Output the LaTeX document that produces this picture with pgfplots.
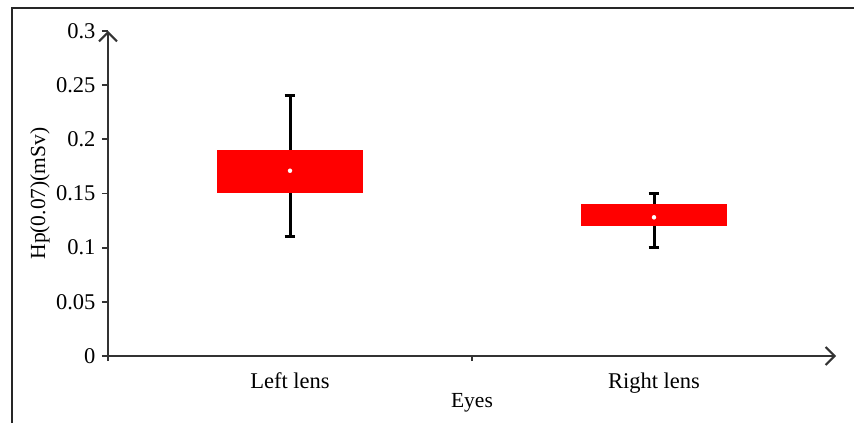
\documentclass[border=0pt]{standalone}
\usepackage{fontspec}
\setmainfont{Liberation Serif}
\usepackage{pgfplots}
\pgfplotsset{compat=1.18}
\usepgfplotslibrary{statistics}
\usetikzlibrary{arrows.meta}
\begin{document}
\begin{tikzpicture}[font=\fontsize{22.5}{26}\selectfont]
\useasboundingbox (0,0) rectangle (854pt,423pt);
\draw[line width=2.2pt, black!85] (12pt,0) -- (12pt,415pt) -- (854pt,415pt);
\begin{axis}[
  at={(108pt,67pt)}, anchor=south west,
  scale only axis, width=728pt, height=325pt,
  xmin=0, xmax=2, ymin=0, ymax=0.3,
  axis lines=left,
  axis line style={line width=2.5pt, black!80},
  x axis line style={-{Straight Barb[length=9pt,width=18pt,line width=2pt]}},
  y axis line style={-{Straight Barb[length=9pt,width=18pt,line width=2pt]}},
  xtick={0.5,1.5}, xticklabels={Left lens, Right lens},
  major x tick style={draw=none},
  minor xtick={0,1},
  minor x tick style={line width=1.8pt, black!80},
  minor tick length=5pt,
  ytick={0,0.05,0.1,0.15,0.2,0.25,0.3},
  yticklabels={0,0.05,0.1,0.15,0.2,0.25,0.3},
  tick align=outside,
  major tick length=6pt,
  y tick style={line width=1.8pt, black!80},
  tick label style={font=\fontsize{22.5}{26}\selectfont},
  xticklabel style={yshift=-7pt},
  yticklabel style={xshift=-3pt},
  xlabel={Eyes}, ylabel={Hp(0.07)(mSv)},
  label style={font=\fontsize{21.5}{25}\selectfont},
  x label style={at={(axis description cs:0.5,-0.145)}, anchor=center},
  y label style={at={(axis description cs:-0.0934,0.5)}, anchor=center, rotate=0},
  boxplot/draw direction=y,
  boxplot/box extend=0.4,
  boxplot/whisker extend=0.03,
  clip=false,
]
\addplot[black, line width=3pt,
  boxplot/every box/.style={fill=red, draw=none},
  boxplot/every median/.style={draw=none},
  boxplot/every whisker/.style={black, line width=3pt},
  boxplot prepared={
  draw position=0.5,
  lower whisker=0.11, lower quartile=0.15, median=0.17,
  upper quartile=0.19, upper whisker=0.24}]
  coordinates {};
\addplot[black, line width=3pt,
  boxplot/every box/.style={fill=red, draw=none},
  boxplot/every median/.style={draw=none},
  boxplot/every whisker/.style={black, line width=3pt},
  boxplot prepared={
  draw position=1.5,
  lower whisker=0.10, lower quartile=0.12, median=0.128,
  upper quartile=0.14, upper whisker=0.15}]
  coordinates {};
\addplot[only marks, mark=*, mark size=2pt, white, mark options={fill=white, draw=white}]
  coordinates {(0.5,0.171) (1.5,0.128)};
\end{axis}
\end{tikzpicture}
\end{document}
